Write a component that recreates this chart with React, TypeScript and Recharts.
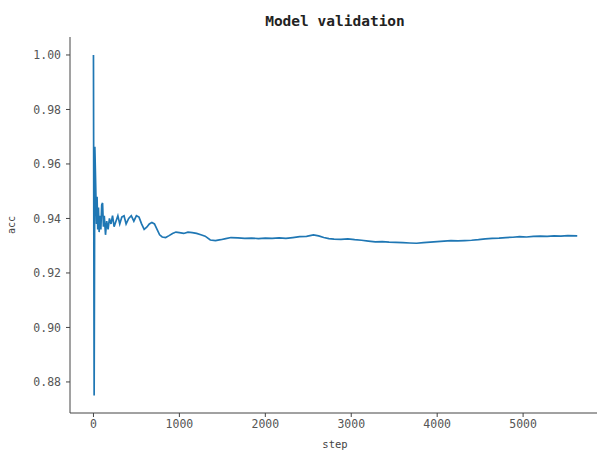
import { LineChart, Line, XAxis, YAxis } from 'recharts';

// validation steps and running accuracy
const steps = [
  0, 8, 16, 24, 30, 36, 42, 50, 58, 66, 76, 86, 96, 106, 116, 126, 140, 154, 170, 186,
  204, 222, 240, 262, 284, 306, 330, 356, 380, 410, 440, 470, 500, 530, 560, 590, 620, 650, 680, 710,
  740, 770, 800, 840, 880, 920, 960, 1000, 1050, 1100, 1150, 1200, 1250, 1300, 1360, 1420, 1480, 1540, 1600, 1680,
  1760, 1840, 1920, 2000, 2080, 2160, 2240, 2320, 2400, 2480, 2560, 2620, 2680, 2740, 2800, 2880, 2960, 3040, 3120, 3200,
  3280, 3360, 3440, 3520, 3600, 3680, 3760, 3840, 3920, 4000, 4080, 4160, 4240, 4320, 4400, 4480, 4560, 4640, 4720, 4800,
  4880, 4960, 5040, 5120, 5200, 5280, 5360, 5440, 5520, 5630,
];

const acc = [
  1.0, 0.875, 0.9663, 0.955, 0.946, 0.938, 0.948, 0.936, 0.944, 0.935, 0.941, 0.936, 0.945, 0.9457, 0.937, 0.941, 0.934, 0.939, 0.936, 0.94,
  0.938, 0.941, 0.937, 0.939, 0.941, 0.938, 0.9405, 0.941, 0.938, 0.94, 0.941, 0.939, 0.941, 0.9405, 0.938, 0.936, 0.9368, 0.938, 0.9385, 0.938,
  0.936, 0.934, 0.9332, 0.933, 0.9337, 0.9345, 0.935, 0.9348, 0.9345, 0.935, 0.9348, 0.9345, 0.934, 0.9335, 0.9321, 0.9319, 0.9322, 0.9326, 0.933, 0.9329,
  0.9327, 0.9328, 0.9326, 0.9328, 0.9327, 0.9329, 0.9327, 0.933, 0.9333, 0.9334, 0.934, 0.9336, 0.933, 0.9326, 0.9324, 0.9323, 0.9325, 0.9322, 0.932, 0.9317,
  0.9314, 0.9315, 0.9313, 0.9312, 0.9311, 0.931, 0.9309, 0.9311, 0.9313, 0.9315, 0.9317, 0.9319, 0.9318, 0.9319, 0.932, 0.9322, 0.9325, 0.9327, 0.9328, 0.933,
  0.9331, 0.9333, 0.9332, 0.9334, 0.9335, 0.9334, 0.9336, 0.9335, 0.9337, 0.9336,
];

const xTicks = [0, 1000, 2000, 3000, 4000, 5000];
const yTicks = [0.88, 0.9, 0.92, 0.94, 0.96, 0.98, 1.0];

const data = steps.map((s, i) => ({ step: s, acc: acc[i] }));

const FONT = '"DejaVu Sans Mono", "Liberation Mono", monospace';
const tickStyle = { fontFamily: FONT, fontSize: 11.5, fill: '#555' };

export default function App() {
  return (
    <div style={{ position: 'absolute', left: 0, top: 0, width: 597, height: 453, background: '#fff' }}>
      <div
        style={{
          position: 'absolute', left: 0, width: 670, top: 12, textAlign: 'center',
          fontFamily: FONT, fontSize: 14.5, fontWeight: 600, color: '#222', lineHeight: '18px',
        }}
      >
        Model validation
      </div>
      <LineChart width={597} height={453} data={data} margin={{ top: 37, right: 0, bottom: 0, left: 0 }}>
        <XAxis
          xAxisId="top"
          orientation="top"
          type="number"
          dataKey="step"
          domain={[-273, 5860]}
          allowDataOverflow
          height={0}
          tick={false}
          tickLine={false}
          stroke="#444"
        />
        <XAxis
          type="number"
          dataKey="step"
          domain={[-273, 5860]}
          allowDataOverflow
          ticks={xTicks}
          height={40}
          tickSize={4}
          tickMargin={3}
          tick={tickStyle}
          stroke="#444"
        />
        <YAxis
          type="number"
          domain={[0.8686, 1.0066]}
          allowDataOverflow
          ticks={yTicks}
          width={70}
          tickSize={4}
          tickMargin={5}
          tick={tickStyle}
          tickFormatter={(v: number) => v.toFixed(2)}
          stroke="#444"
        />
        <Line
          type="linear"
          dataKey="acc"
          stroke="#1f77b4"
          strokeWidth={1.7}
          dot={false}
          isAnimationActive={false}
        />
      </LineChart>
      <div
        style={{
          position: 'absolute', left: 300, width: 70, top: 437, textAlign: 'center',
          fontFamily: FONT, fontSize: 10.5, color: '#444', lineHeight: '14px',
        }}
      >
        step
      </div>
      <div
        style={{
          position: 'absolute', left: -8, top: 218, width: 40, textAlign: 'center',
          transform: 'rotate(-90deg)', fontFamily: FONT, fontSize: 10, color: '#444', lineHeight: '14px',
        }}
      >
        acc
      </div>
    </div>
  );
}
